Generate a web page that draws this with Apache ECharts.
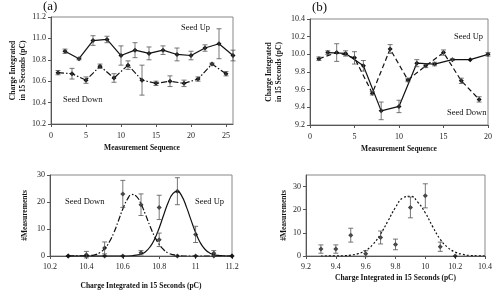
<!DOCTYPE html>
<html>
<head>
<meta charset="utf-8">
<script src="https://cdn.jsdelivr.net/npm/echarts@6/dist/echarts.min.js"></script>
<style>
  html, body { margin: 0; padding: 0; background: #fff; }
  #chart { width: 495px; height: 291px; }
</style>
</head>
<body>
<div id="chart"></div>
<script>
// (a) top: charge vs measurement sequence
var seqUpA = [2, 4, 6, 8, 10, 12, 14, 16, 18, 20, 22, 24, 26];
var chargeUpA = [10.88, 10.81, 10.98, 10.99, 10.84, 10.89, 10.86, 10.89, 10.85, 10.84, 10.91, 10.95, 10.84];
var errUpA = [0.02, 0.01, 0.045, 0.03, 0.09, 0.07, 0.06, 0.04, 0.06, 0.04, 0.03, 0.14, 0.05];
var seqDownA = [1, 3, 5, 7, 9, 11, 13, 15, 17, 19, 21, 23, 25];
var chargeDownA = [10.68, 10.67, 10.61, 10.74, 10.63, 10.75, 10.61, 10.58, 10.60, 10.58, 10.62, 10.76, 10.67];
var errDownA = [0.02, 0.05, 0.03, 0.02, 0.04, 0.04, 0.14, 0.02, 0.05, 0.03, 0.02, 0.01, 0.02];

// (b) top
var seqUpB = [2, 4, 6, 8, 10, 12, 14, 16, 18, 20];
var chargeUpB = [10.02, 10.01, 9.87, 9.36, 9.41, 9.90, 9.89, 9.94, 9.94, 10.00];
var errUpB = [0.02, 0.03, 0.06, 0.1, 0.07, 0.04, 0.02, 0.01, 0, 0.02];
var seqDownB = [1, 3, 5, 7, 9, 11, 13, 15, 17, 19];
var chargeDownB = [9.95, 10.02, 9.96, 9.56, 10.06, 9.71, 9.87, 10.02, 9.70, 9.49];
var errDownB = [0.02, 0.1, 0.07, 0.02, 0.05, 0.02, 0.02, 0.03, 0.03, 0.03];

// (a) bottom: histograms
var binsA = [10.3, 10.4, 10.5, 10.6, 10.7, 10.8, 10.9, 11.0, 11.1, 11.2];
var countDownA = [0, 0.5, 3, 23, 19, 6, 0, 0, 0, 0];
var errCountDownA = [0, 1.2, 2.2, 5, 4, 2.5, 0, 0, 0, 0];
var countUpA = [0, 0, 0, 0, 1.2, 18, 24, 8, 1, 0];
var errCountUpA = [0, 0, 0, 0, 0.8, 4.5, 5, 3, 1, 0];
var fitXDownA = [10.3, 10.4, 10.425, 10.45, 10.475, 10.5, 10.525, 10.55, 10.575, 10.6, 10.625, 10.65, 10.675, 10.7, 10.725, 10.75, 10.775, 10.8, 10.825, 10.85, 10.875, 10.9, 10.95, 11.2];
var fitYDownA = [0, 0.1, 0.2, 0.5, 1.3, 2.7, 5.1, 8.5, 12.9, 17.4, 21.0, 22.8, 22.1, 19.3, 15.3, 11.0, 7.2, 4.3, 2.3, 1.1, 0.5, 0.2, 0, 0];
var fitXUpA = [10.3, 10.6, 10.65, 10.675, 10.7, 10.725, 10.75, 10.775, 10.8, 10.825, 10.85, 10.875, 10.9, 10.925, 10.95, 10.975, 11.0, 11.025, 11.05, 11.075, 11.1, 11.125, 11.15, 11.2];
var fitYUpA = [0, 0, 0.1, 0.3, 0.7, 1.6, 3.4, 6.3, 10.4, 15.3, 19.9, 23.1, 23.9, 22.1, 18.1, 13.3, 8.7, 5.0, 2.6, 1.2, 0.5, 0.2, 0.1, 0];

// (b) bottom
var binsB = [9.3, 9.4, 9.5, 9.6, 9.7, 9.8, 9.9, 10.0, 10.1, 10.2];
var countB = [3, 3, 9, 1, 8, 5, 21, 26, 4, 0];
var errCountB = [1.8, 1.8, 3, 1.3, 2.8, 2.3, 4.5, 5.2, 2, 0];
var fitXB = [9.3, 9.4, 9.45, 9.5, 9.55, 9.6, 9.65, 9.7, 9.75, 9.8, 9.85, 9.9, 9.95, 10.0, 10.05, 10.1, 10.15, 10.2, 10.25, 10.3, 10.35, 10.4];
var fitYB = [0, 0.05, 0.1, 0.4, 1.0, 2.4, 5.1, 9.5, 15.2, 21.0, 25.1, 25.8, 23.2, 18.6, 12.6, 7.2, 3.7, 1.7, 0.7, 0.2, 0.1, 0];

function zip(xs, ys) {
  return xs.map(function (x, i) { return [x, ys[i]]; });
}
function bars(xs, ys, es) {
  var out = [];
  xs.forEach(function (x, i) {
    if (es[i] > 0) out.push([x, ys[i] - es[i], ys[i] + es[i]]);
  });
  return out;
}

function renderBar(params, api) {
  var x = api.value(0);
  var lo = api.coord([x, api.value(1)]);
  var hi = api.coord([x, api.value(2)]);
  var w = 2.5;
  var st = { stroke: '#555', lineWidth: 0.8 };
  return {
    type: 'group',
    children: [
      { type: 'line', shape: { x1: hi[0], y1: hi[1], x2: lo[0], y2: lo[1] }, style: st },
      { type: 'line', shape: { x1: hi[0] - w, y1: hi[1], x2: hi[0] + w, y2: hi[1] }, style: st },
      { type: 'line', shape: { x1: lo[0] - w, y1: lo[1], x2: lo[0] + w, y2: lo[1] }, style: st }
    ]
  };
}

var serif = 'Liberation Serif';
var txt = { fontFamily: serif, fontSize: 8, color: '#222' };

function xAxis(gi, min, max, step, fmt, name, gap, margin) {
  return {
    type: 'value', gridIndex: gi, min: min, max: max, interval: step,
    axisLine: { lineStyle: { color: '#555', width: 1 } },
    axisTick: { show: true, length: 3, lineStyle: { color: '#555' } },
    splitLine: { show: false },
    axisLabel: Object.assign({ margin: margin, showMaxLabel: max % step < 1e-9 || Math.abs(max % step - step) < 1e-9, formatter: fmt }, txt),
    name: name, nameLocation: 'middle', nameGap: gap,
    nameTextStyle: { fontFamily: serif, fontSize: 7.5, fontWeight: 'bold', color: '#111' }
  };
}
function yAxis(gi, min, max, step, fmt, name, gap, showMax) {
  return {
    type: 'value', gridIndex: gi, min: min, max: max, interval: step,
    axisLine: { show: true, lineStyle: { color: '#555', width: 1 } },
    axisTick: { show: true, length: 3, lineStyle: { color: '#555' } },
    splitLine: { show: false },
    axisLabel: Object.assign({ margin: 5, showMaxLabel: showMax, formatter: fmt }, txt),
    name: name, nameLocation: 'middle', nameGap: gap, nameRotate: 90,
    nameTextStyle: { fontFamily: serif, fontSize: 7.5, fontWeight: 'bold', color: '#111', lineHeight: 10 }
  };
}

var fix1 = function (v) { return v.toFixed(1); };
var gen = function (v) { return String(+v.toFixed(1)); };
var intf = function (v) { return String(Math.round(v)); };

var mk = { symbol: 'diamond', symbolSize: 5, itemStyle: { color: '#111' } };

function lineSeries(name, xi, data, dash, width) {
  return Object.assign({
    name: name, type: 'line', xAxisIndex: xi, yAxisIndex: xi, data: data,
    lineStyle: { color: '#111', width: width || 1.2, type: dash }, z: 3
  }, mk);
}
function curveSeries(name, xi, data, dash) {
  return {
    name: name, type: 'line', xAxisIndex: xi, yAxisIndex: xi, data: data, smooth: true,
    showSymbol: false, symbol: 'none',
    lineStyle: { color: '#111', width: 1.2, type: dash }, z: 2
  };
}
function scatterSeries(name, xi, data) {
  return Object.assign({ name: name, type: 'scatter', xAxisIndex: xi, yAxisIndex: xi, data: data, z: 4 }, mk);
}
function barSeries(xi, data) {
  return {
    type: 'custom', xAxisIndex: xi, yAxisIndex: xi, data: data,
    renderItem: renderBar, encode: { x: 0, y: [1, 2] }, z: 5, silent: true
  };
}

var chart = echarts.init(document.getElementById('chart'), null, { renderer: 'canvas' });

var option = {
  animation: false,
  backgroundColor: '#fff',
  grid: [
    { left: 51, top: 17, width: 182, height: 107, show: true, borderColor: '#888', borderWidth: 1 },
    { left: 310, top: 19, width: 183, height: 106, show: true, borderColor: '#888', borderWidth: 1 },
    { left: 50, top: 175, width: 182, height: 81, show: true, borderColor: '#888', borderWidth: 1 },
    { left: 306, top: 175, width: 184, height: 81, show: true, borderColor: '#888', borderWidth: 1 }
  ],
  xAxis: [
    xAxis(0, 0, 26, 5, intf, 'Measurement Sequence', 20, 8),
    xAxis(1, 0, 20, 5, intf, 'Measurement Sequence', 20, 8),
    xAxis(2, 10.2, 11.2, 0.2, gen, 'Charge Integrated in 15 Seconds (pC)', 26, 7),
    xAxis(3, 9.2, 10.4, 0.2, gen, 'Charge Integrated in 15 Seconds (pC)', 18, 7)
  ],
  yAxis: [
    yAxis(0, 10.2, 11.2, 0.2, fix1, 'Charge Integrated\nin 15 Seconds (pC)', 23, true),
    yAxis(1, 9.2, 10.4, 0.2, fix1, 'Charge Integrated\nin 15 Seconds (pC)', 26, true),
    yAxis(2, 0, 30, 10, intf, '#Measurements', 20, true),
    yAxis(3, 0, 35, 10, intf, '#Measurements', 12, false)
  ],
  graphic: [
    { type: 'text', left: 43, top: 0, style: { text: '(a)', font: '13px "Liberation Serif"', fill: '#111' } },
    { type: 'text', left: 312, top: 1, style: { text: '(b)', font: '13px "Liberation Serif"', fill: '#111' } },
    { type: 'text', left: 181, top: 23, style: { text: 'Seed Up', font: '8.5px "Liberation Serif"', fill: '#111' } },
    { type: 'text', left: 63, top: 95, style: { text: 'Seed Down', font: '8.5px "Liberation Serif"', fill: '#111' } },
    { type: 'text', left: 454, top: 32, style: { text: 'Seed Up', font: '8.5px "Liberation Serif"', fill: '#111' } },
    { type: 'text', left: 447, top: 108, style: { text: 'Seed Down', font: '8.5px "Liberation Serif"', fill: '#111' } },
    { type: 'text', left: 65, top: 197, style: { text: 'Seed Down', font: '8.5px "Liberation Serif"', fill: '#111' } },
    { type: 'text', left: 195, top: 197, style: { text: 'Seed Up', font: '8.5px "Liberation Serif"', fill: '#111' } }
  ],
  series: [
    lineSeries('Seed Up', 0, zip(seqUpA, chargeUpA), 'solid'),
    lineSeries('Seed Down', 0, zip(seqDownA, chargeDownA), [6, 2, 1.5, 2]),
    barSeries(0, bars(seqUpA, chargeUpA, errUpA)),
    barSeries(0, bars(seqDownA, chargeDownA, errDownA)),

    lineSeries('Seed Up', 1, zip(seqUpB, chargeUpB), 'solid'),
    lineSeries('Seed Down', 1, zip(seqDownB, chargeDownB), [5, 3]),
    barSeries(1, bars(seqUpB, chargeUpB, errUpB)),
    barSeries(1, bars(seqDownB, chargeDownB, errDownB)),

    curveSeries('Seed Down fit', 2, zip(fitXDownA, fitYDownA), [6, 2, 1.5, 2]),
    curveSeries('Seed Up fit', 2, zip(fitXUpA, fitYUpA), 'solid'),
    scatterSeries('Seed Down', 2, zip(binsA, countDownA)),
    scatterSeries('Seed Up', 2, zip(binsA, countUpA)),
    barSeries(2, bars(binsA, countDownA, errCountDownA)),
    barSeries(2, bars(binsA, countUpA, errCountUpA)),

    curveSeries('Fit', 3, zip(fitXB, fitYB), [2, 2]),
    scatterSeries('Counts', 3, zip(binsB, countB)),
    barSeries(3, bars(binsB, countB, errCountB))
  ]
};

chart.setOption(option);
</script>
</body>
</html>
